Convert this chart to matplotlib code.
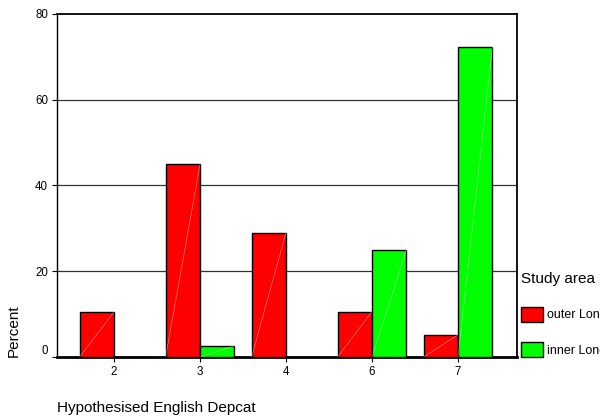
import matplotlib.pyplot as plt
import numpy as np

plt.rcParams['font.family'] = ['Liberation Sans', 'DejaVu Sans']

categories = ['2', '3', '4', '6', '7']
outer_london = [10.5, 44.9, 29.0, 10.6, 5.2]
inner_london = [0.0, 2.6, 0.0, 25.0, 72.4]
series_names = ['outer London', 'inner London']
y_ticks = [0, 20, 40, 60, 80]

fig = plt.figure(figsize=(6, 4.19), dpi=100)
ax = fig.add_axes([57 / 600, 62 / 419, 460 / 600, 343 / 419])

x = np.arange(len(categories))
w = 0.4
bars_out = ax.bar(x - w / 2, outer_london, w, color='#ff0000', edgecolor='black', linewidth=1, zorder=3)
bars_in = ax.bar(x + w / 2, inner_london, w, color='#00ff00', edgecolor='black', linewidth=1, zorder=3)

# faint diagonal streak across each bar, like the original renderer
for b in list(bars_out) + list(bars_in):
    if b.get_height() > 0:
        x0 = b.get_x()
        ax.plot([x0, x0 + b.get_width()], [0, b.get_height()], color='white',
                lw=0.5, alpha=0.45, zorder=4)

ax.set_xlim(-0.663, 4.686)
ax.set_ylim(0, 80)
ax.set_xticks(x)
ax.set_xticklabels(categories)
ax.set_yticks(y_ticks)
ax.tick_params(axis='both', labelsize=8.3, length=3.5, width=0.8, pad=3, colors='black')
ax.get_yticklabels()[0].set_va('bottom')

for v in y_ticks[1:-1]:
    ax.axhline(v, color='#333333', lw=0.9, zorder=1)

ax.spines['bottom'].set_linewidth(2)
ax.spines['left'].set_linewidth(1)
ax.spines['top'].set_linewidth(1.3)
ax.spines['right'].set_linewidth(1.3)

fig.text(14 / 600, 62 / 419, 'Percent', rotation=90, ha='center', va='bottom', fontsize=11)
fig.text(57 / 600, 1 - 408 / 419, 'Hypothesised English Depcat', ha='left', va='center', fontsize=11)

leg = ax.legend([bars_out, bars_in], series_names, title='Study area', loc='upper left',
                bbox_to_anchor=(521 / 600, 1 - 272 / 419), bbox_transform=fig.transFigure,
                frameon=False, fontsize=9, title_fontsize=11, borderpad=0, borderaxespad=0,
                handlelength=1.76, handleheight=1.47, handletextpad=0.3, labelspacing=1.65,
                alignment='left')

fig.savefig('out.png', dpi=100)
